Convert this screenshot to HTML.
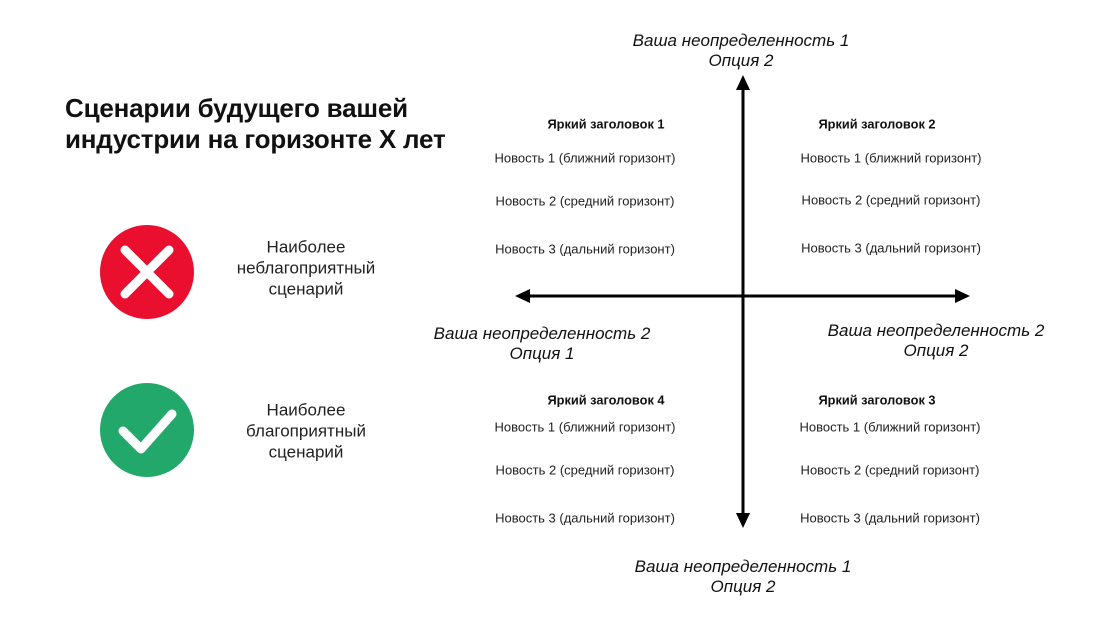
<!DOCTYPE html>
<html><head><meta charset="utf-8"><style>
body{margin:0;width:1107px;height:622px;background:#fff;position:relative;overflow:hidden;font-family:"Liberation Sans",sans-serif;color:#111}
.c{position:absolute;transform:translate(-50%,-50%);white-space:nowrap;text-align:center}
.n{font-size:13px;color:#222}
.h{font-size:12.8px;font-weight:bold}
.a{font-size:17px;font-style:italic;line-height:20px;color:#111}
.l{font-size:17px;line-height:21px;color:#222}
</style></head><body>
<div style="position:absolute;left:65px;top:93px;font-size:26px;font-weight:bold;line-height:31px;letter-spacing:-0.2px">Сценарии будущего вашей<br>индустрии на горизонте X лет</div>
<svg style="position:absolute;left:0;top:0" width="1107" height="622">
<circle cx="147" cy="272" r="47" fill="#ea0f2e"/>
<path d="M125 250L169 294M169 250L125 294" stroke="#fff" stroke-width="9" stroke-linecap="round"/>
<circle cx="147" cy="430" r="47" fill="#22a86b"/>
<path d="M123 431L141 449L172 414" stroke="#fff" stroke-width="9" stroke-linecap="round" stroke-linejoin="round" fill="none"/>
<line x1="743" y1="88" x2="743" y2="516" stroke="#000" stroke-width="3"/>
<polygon points="743,75 736,90 750,90" fill="#000"/>
<polygon points="743,528 736,513 750,513" fill="#000"/>
<line x1="527" y1="296" x2="958" y2="296" stroke="#000" stroke-width="3"/>
<polygon points="515,296 530,289 530,303" fill="#000"/>
<polygon points="970,296 955,289 955,303" fill="#000"/>
</svg>
<div class="c l" style="left:306px;top:268px">Наиболее<br>неблагоприятный<br>сценарий</div>
<div class="c l" style="left:306px;top:431px">Наиболее<br>благоприятный<br>сценарий</div>
<div class="c a" style="left:741px;top:51px">Ваша неопределенность 1<br>Опция 2</div>
<div class="c a" style="left:743px;top:577px">Ваша неопределенность 1<br>Опция 2</div>
<div class="c a" style="left:542px;top:344px">Ваша неопределенность 2<br>Опция 1</div>
<div class="c a" style="left:936px;top:341px">Ваша неопределенность 2<br>Опция 2</div>
<div class="c h" style="left:606px;top:124px">Яркий заголовок 1</div>
<div class="c n" style="left:585px;top:158px">Новость 1 (ближний горизонт)</div>
<div class="c n" style="left:585px;top:201px">Новость 2 (средний горизонт)</div>
<div class="c n" style="left:585px;top:249px">Новость 3 (дальний горизонт)</div>
<div class="c h" style="left:877px;top:124px">Яркий заголовок 2</div>
<div class="c n" style="left:891px;top:158px">Новость 1 (ближний горизонт)</div>
<div class="c n" style="left:891px;top:200px">Новость 2 (средний горизонт)</div>
<div class="c n" style="left:891px;top:248px">Новость 3 (дальний горизонт)</div>
<div class="c h" style="left:606px;top:400px">Яркий заголовок 4</div>
<div class="c n" style="left:585px;top:427px">Новость 1 (ближний горизонт)</div>
<div class="c n" style="left:585px;top:470px">Новость 2 (средний горизонт)</div>
<div class="c n" style="left:585px;top:518px">Новость 3 (дальний горизонт)</div>
<div class="c h" style="left:877px;top:400px">Яркий заголовок 3</div>
<div class="c n" style="left:890px;top:427px">Новость 1 (ближний горизонт)</div>
<div class="c n" style="left:890px;top:470px">Новость 2 (средний горизонт)</div>
<div class="c n" style="left:890px;top:518px">Новость 3 (дальний горизонт)</div>
</body></html>
